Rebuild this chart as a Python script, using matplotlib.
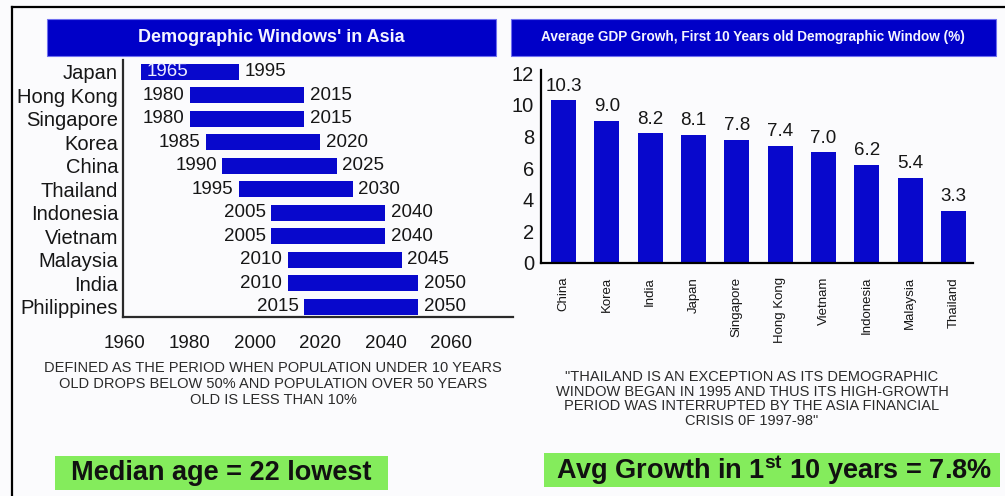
import matplotlib
matplotlib.use("Agg")
import matplotlib.pyplot as plt
from matplotlib.patches import Rectangle
from matplotlib.lines import Line2D

# ---- data -------------------------------------------------------------
window_countries = ["Japan", "Hong Kong", "Singapore", "Korea", "China", "Thailand",
                    "Indonesia", "Vietnam", "Malaysia", "India", "Philippines"]
window_start = [1965, 1980, 1980, 1985, 1990, 1995, 2005, 2005, 2010, 2010, 2015]
window_end = [1995, 2015, 2015, 2020, 2025, 2030, 2040, 2040, 2045, 2050, 2050]
year_ticks = [1960, 1980, 2000, 2020, 2040, 2060]

growth_countries = ["China", "Korea", "India", "Japan", "Singapore", "Hong Kong",
                    "Vietnam", "Indonesia", "Malaysia", "Thailand"]
growth_values = [10.3, 9.0, 8.2, 8.1, 7.8, 7.4, 7.0, 6.2, 5.4, 3.3]
growth_ticks = [0, 2, 4, 6, 8, 10, 12]

left_title = "Demographic Windows' in Asia"
right_title = "Average GDP Growh, First 10 Years old Demographic Window (%)"
left_note = ("DEFINED AS THE PERIOD WHEN POPULATION UNDER 10 YEARS\n"
             "OLD DROPS BELOW 50% AND POPULATION OVER 50 YEARS\n"
             "OLD IS LESS THAN 10%")
right_note = ("\"THAILAND IS AN EXCEPTION AS ITS DEMOGRAPHIC\n"
              "WINDOW BEGAN IN 1995 AND THUS ITS HIGH-GROWTH\n"
              "PERIOD WAS INTERRUPTED BY THE ASIA FINANCIAL\n"
              "CRISIS 0F 1997-98\"")
left_callout = "Median age = 22 lowest"
right_callout = r"Avg Growth in 1$^{\mathbf{st}}$ 10 years = 7.8%"

# ---- style ------------------------------------------------------------
plt.rcParams["font.family"] = ["Liberation Sans", "DejaVu Sans"]
plt.rcParams["mathtext.fontset"] = "custom"
plt.rcParams["mathtext.rm"] = "Liberation Sans"
plt.rcParams["mathtext.bf"] = "Liberation Sans:bold"

BLUE = "#0808CC"
BANNER = "#0000C8"
GREEN = "#84EC5C"
INK = "#161616"

W, H = 1005, 496
fig = plt.figure(figsize=(W / 100, H / 100), dpi=100, facecolor="#FBFBFD")


def fx(x):
    return x / W


def fy(y):
    return 1 - y / H


def box(x0, y0, x1, y1):
    return [fx(x0), fy(y1), (x1 - x0) / W, (y1 - y0) / H]


def panel(x0, y0, x1, y1, face, edge, lw):
    fig.add_artist(Rectangle((fx(x0), fy(y1)), (x1 - x0) / W, (y1 - y0) / H,
                             transform=fig.transFigure, facecolor=face,
                             edgecolor=edge, lw=lw, zorder=0))


# outer frame
fig.add_artist(Line2D([fx(12), 1], [fy(7), fy(7)], color="black", lw=1.6))
fig.add_artist(Line2D([fx(12), fx(12)], [0, fy(7)], color="black", lw=1.6))

# title banners
panel(47, 19, 496, 56, BANNER, "#7070F0", 0.8)
fig.text(fx(271), fy(37.5), left_title, color="#F4F4FF", fontsize=13,
         fontweight="bold", ha="center", va="center")
panel(511, 19, 996, 56, BANNER, "#7070F0", 0.8)
fig.text(fx(753), fy(37.5), right_title, color="#F4F4FF", fontsize=9.8,
         fontweight="bold", ha="center", va="center")

# ---- left: demographic windows ----------------------------------------
ax1 = fig.add_axes(box(123, 60, 513, 317))
ax1.set_facecolor("none")
rows = list(range(len(window_countries)))
spans = [e - s for s, e in zip(window_start, window_end)]
ax1.barh(rows, spans, left=window_start, height=0.68, color=BLUE)
ax1.set_xlim(1959.5, 2079.1)
ax1.set_ylim(len(rows) - 0.57, -0.51)
ax1.set_yticks(rows, window_countries, fontsize=14.5, color=INK)
ax1.set_xticks(year_ticks, [str(t) for t in year_ticks], fontsize=13.5, color=INK)
ax1.tick_params(length=0)
ax1.tick_params(axis="y", pad=3.5)
ax1.tick_params(axis="x", pad=13)
for side in ("top", "right"):
    ax1.spines[side].set_visible(False)
for side in ("left", "bottom"):
    ax1.spines[side].set_color("#2A2A2A")
    ax1.spines[side].set_linewidth(1.6)

x_left = ax1.get_xlim()[0]
for r, s, e in zip(rows, window_start, window_end):
    if s - x_left < 12:
        # no room left of the bar: put the start year inside it
        ax1.annotate(str(s), (s, r), xytext=(4, 0), textcoords="offset points",
                     ha="left", va="center", fontsize=13.5, color="#ECECFF")
    else:
        ax1.annotate(str(s), (s, r), xytext=(-4, 0), textcoords="offset points",
                     ha="right", va="center", fontsize=13.5, color=INK)
    ax1.annotate(str(e), (e, r), xytext=(4, 0), textcoords="offset points",
                 ha="left", va="center", fontsize=13.5, color=INK)

# ---- right: GDP growth --------------------------------------------------
ax2 = fig.add_axes(box(541, 70, 973, 263))
ax2.set_facecolor("none")
cols = list(range(len(growth_countries)))
ax2.bar(cols, growth_values, width=0.58, color=BLUE)
ax2.set_xlim(-0.52, len(cols) - 0.55)
ax2.set_ylim(0, 12.2)
ax2.set_yticks(growth_ticks, [str(t) for t in growth_ticks], fontsize=14.5, color=INK)
ax2.set_xticks(cols, growth_countries, rotation=90, fontsize=9.5, color=INK)
ax2.tick_params(length=0)
ax2.tick_params(axis="y", pad=5)
ax2.tick_params(axis="x", pad=10)
for side in ("top", "right"):
    ax2.spines[side].set_visible(False)
for side in ("left", "bottom"):
    ax2.spines[side].set_color("black")
    ax2.spines[side].set_linewidth(1.6)
for c, v in zip(cols, growth_values):
    ax2.annotate(f"{v:.1f}", (c, v), xytext=(0, 4), textcoords="offset points",
                 ha="center", va="bottom", fontsize=13.5, color=INK)

# ---- notes ---------------------------------------------------------------
fig.text(fx(273), fy(384), left_note, ha="center", va="center", fontsize=10.5,
         linespacing=1.15, color="#2A2A2A")
fig.text(fx(752), fy(399), right_note, ha="center", va="center", fontsize=10.5,
         linespacing=1.05, color="#2A2A2A")

# ---- highlighted call-outs -------------------------------------------------
panel(55, 456, 388, 490, GREEN, "none", 0)
fig.text(fx(221.5), fy(473.5), left_callout, ha="center", va="center",
         fontsize=19.5, fontweight="bold", color="#111111")
panel(544, 453, 1000, 487, GREEN, "none", 0)
fig.text(fx(774), fy(470), right_callout, ha="center", va="center",
         fontsize=19.5, fontweight="bold", color="#111111")

fig.savefig("out.png", dpi=100, facecolor=fig.get_facecolor())
